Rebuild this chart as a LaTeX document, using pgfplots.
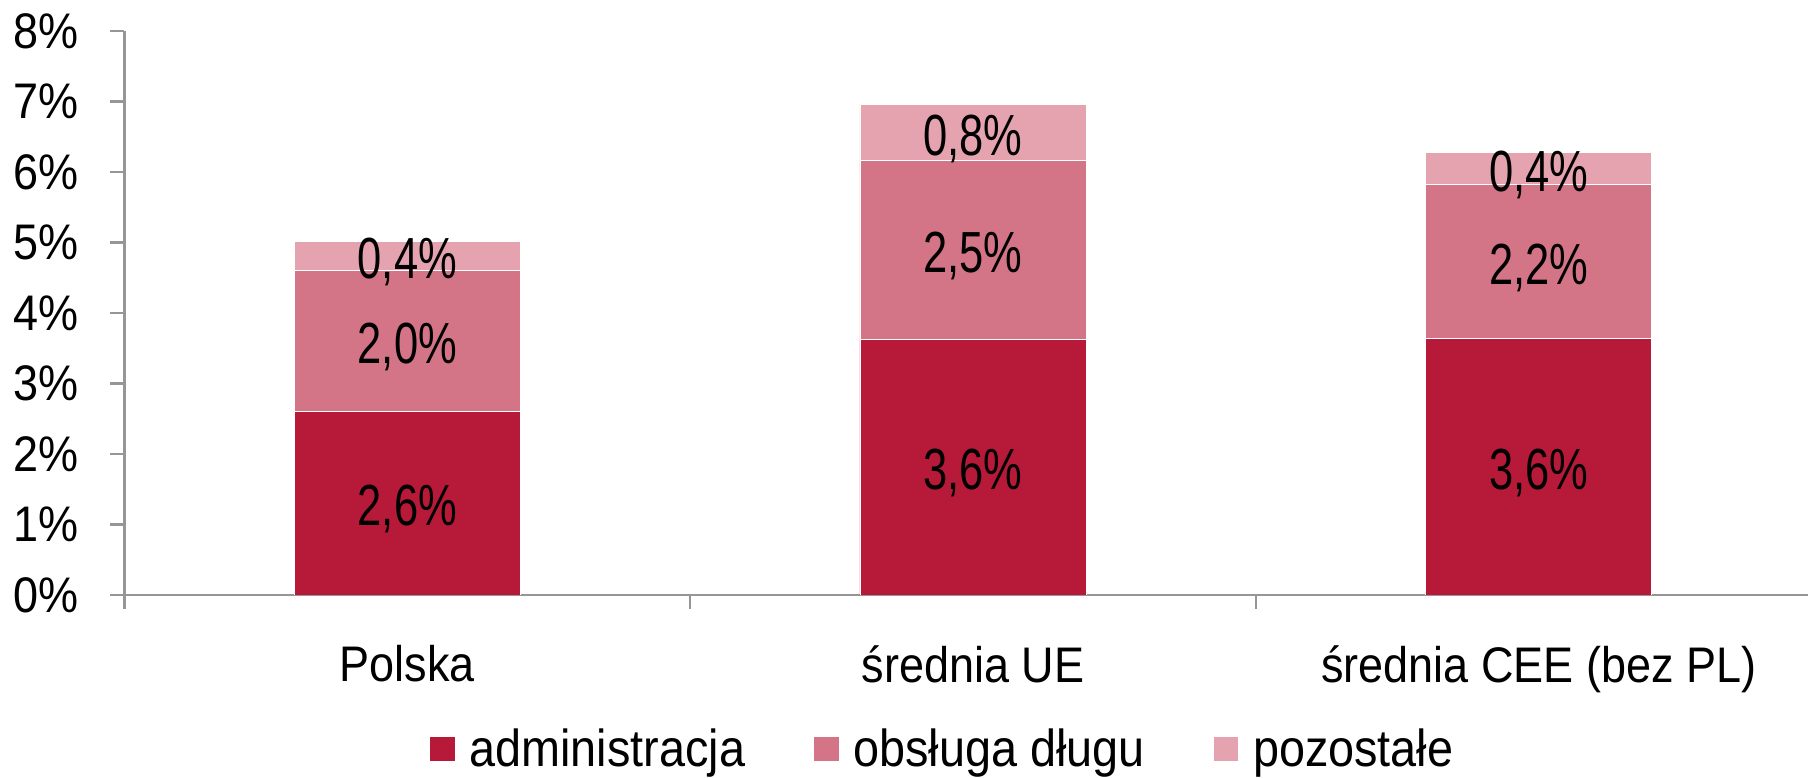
\documentclass[border=0pt]{standalone}
\usepackage{fontspec}
\setmainfont{Liberation Sans}[FakeStretch=0.9]
\newfontfamily\condfont{Liberation Sans}[FakeStretch=0.75]
\usepackage{pgfplots}
\pgfplotsset{compat=1.18}
\usepackage{pgfplotstable}
\usetikzlibrary{calc}
\definecolor{cadm}{RGB}{183,25,56}
\definecolor{cdebt}{RGB}{211,117,135}
\definecolor{coth}{RGB}{229,163,176}
\definecolor{axgray}{RGB}{150,150,150}
\pgfplotstableread{
x y lab
0 2.60 2,6
1 3.62 3,6
2 3.64 3,6
}\tadm
\pgfplotstableread{
x y lab
0 2.00 2,0
1 2.54 2,5
2 2.18 2,2
}\tdebt
\pgfplotstableread{
x y lab
0 0.42 0,4
1 0.80 0,8
2 0.46 0,4
}\toth
\begin{document}
\begin{tikzpicture}
\begin{axis}[name=ax, scale only axis, width=841.75pt, height=282pt,
  xmin=-0.5, xmax=2.476, ymin=0, ymax=8,
  ybar stacked, bar width=0.4,
  axis x line*=bottom, axis y line*=left,
  axis line style={draw=axgray, line width=1.2pt, -},
  tick align=outside, major tick length=7pt,
  tick style={draw=axgray, line width=1.2pt},
  ytick={0,1,2,3,4,5,6,7,8},
  yticklabels={0\%,1\%,2\%,3\%,4\%,5\%,6\%,7\%,8\%},
  xtick={-0.5,0.5,1.5}, xticklabels={},
  extra x ticks={0,1,2},
  extra x tick labels={Polska,średnia UE,średnia CEE (bez PL)},
  extra x tick style={major tick length=0pt},
  xticklabel style={font=\fontsize{25}{29}\selectfont, anchor=north, inner sep=0pt, yshift=-25pt},
  yticklabel style={font=\fontsize{25}{29}\selectfont, anchor=east, inner sep=0pt, xshift=-16pt},
  point meta=explicit symbolic,
  nodes near coords={\pgfplotspointmeta\%},
  every node near coord/.append style={font=\condfont\fontsize{29}{31}\selectfont, anchor=center, text=black, inner sep=0pt, yshift=-3pt},
  legend style={at={(0.487,-0.273)}, anchor=center, draw=none, fill=none,
    legend columns=3, font=\fontsize{26}{30}\selectfont,
    /tikz/every even column/.append style={column sep=31pt},
    /tikz/every odd column/.append style={column sep=4pt},
    nodes={inner sep=3pt}},
  legend image code/.code={\fill[#1] (0pt,-6.3pt) rectangle (12.7pt,6.3pt);},
]
\addplot[fill=cadm, draw=white, line width=0.4pt] table[x=x,y=y,meta=lab]{\tadm};
\addplot[fill=cdebt, draw=white, line width=0.4pt] table[x=x,y=y,meta=lab]{\tdebt};
\addplot[fill=coth, draw=white, line width=0.4pt] table[x=x,y=y,meta=lab]{\toth};
\legend{administracja,obsługa długu,pozostałe}
\end{axis}
\pgfresetboundingbox
\path[use as bounding box] ($(ax.south west)+(-62.25pt,-91.5pt)$) rectangle ($(ax.north east)+(0pt,15.5pt)$);
\end{tikzpicture}
\end{document}
